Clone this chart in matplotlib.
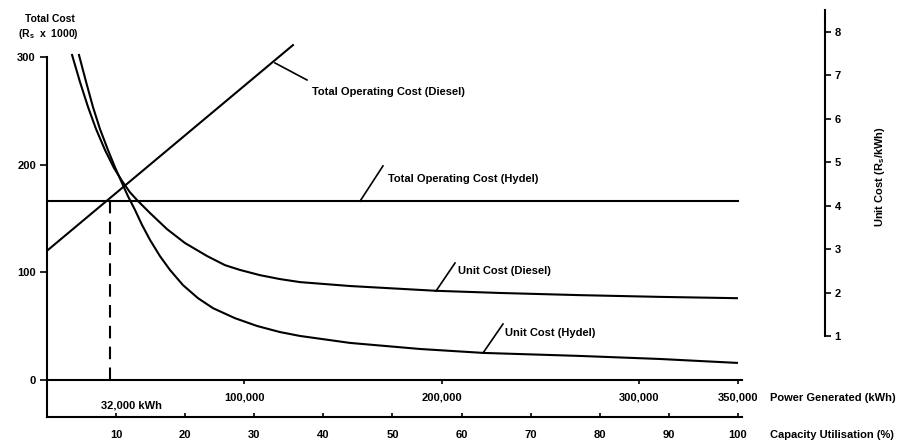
import matplotlib
matplotlib.use("Agg")
import matplotlib.pyplot as plt

plt.rcParams['font.family'] = ['Liberation Sans', 'DejaVu Sans']
plt.rcParams['font.weight'] = 'bold'
plt.rcParams['mathtext.fontset'] = 'custom'
plt.rcParams['mathtext.rm'] = 'Liberation Sans:bold'
plt.rcParams['mathtext.bf'] = 'Liberation Sans:bold'
plt.rcParams['mathtext.it'] = 'Liberation Sans:bold'
plt.rcParams['mathtext.default'] = 'bf'

# ---------------- data ----------------
# Total operating cost, Rs x 1000
hydel_total_kwh = [0, 350000]
hydel_total = [166, 166]
diesel_total_kwh = [0, 124600]
diesel_total = [120, 311]
breakeven_kwh = 32000

# Unit cost, Rs/kWh
diesel_unit_kwh = [12700, 16700, 20800, 24800, 29400, 33900, 38000, 42000,
                   45600, 52200, 60800, 69900, 81100, 90200, 97800, 107900,
                   118000, 128200, 153500, 197100, 229500, 270000, 310500, 349500]
diesel_unit = [7.47, 6.85, 6.27, 5.77, 5.28, 4.87, 4.57, 4.31,
               4.13, 3.83, 3.46, 3.14, 2.84, 2.63, 2.52, 2.40,
               2.31, 2.24, 2.15, 2.04, 1.99, 1.94, 1.90, 1.87]
hydel_unit_kwh = [16200, 19800, 23300, 26800, 30900, 34400, 38000, 41000,
                  44600, 48100, 52200, 57200, 62300, 68900, 76500, 84100,
                  95200, 106400, 118000, 128200, 153500, 189000, 220900,
                  270000, 310500, 349500]
hydel_unit = [7.47, 6.85, 6.27, 5.77, 5.28, 4.89, 4.52, 4.22,
              3.90, 3.56, 3.21, 2.84, 2.52, 2.17, 1.87, 1.64,
              1.41, 1.23, 1.09, 1.00, 0.84, 0.70, 0.61,
              0.54, 0.47, 0.38]

kwh_ticks = [100000, 200000, 300000, 350000]
kwh_ticklabels = ['100,000', '200,000', '300,000', '350,000']
cap_ticks = [10, 20, 30, 40, 50, 60, 70, 80, 90, 100]
left_ticks = [0, 100, 200, 300]
right_ticks = [1, 2, 3, 4, 5, 6, 7, 8]
KWH_PER_PCT = 3500

# ---------------- figure ----------------
W, H = 922, 443
fig = plt.figure(figsize=(W / 100, H / 100), dpi=100)
ax = fig.add_axes([47 / W, 1 - 417 / H, (825 - 47) / W, (417 - 10) / H])
ax.set_xlim(0, 394120)
ax.set_ylim(-34.4, 343.6)
ax2 = ax.twinx()
ax2.set_ylim(-0.866, 8.506)

lw = 1.5
k = 'black'
ax.plot(hydel_total_kwh, hydel_total, color=k, lw=lw)
ax.plot(diesel_total_kwh, diesel_total, color=k, lw=lw)
ax.plot([breakeven_kwh, breakeven_kwh], [0, hydel_total[0]], color=k, lw=lw,
        dashes=[6, 4])
ax2.plot(diesel_unit_kwh, diesel_unit, color=k, lw=lw, solid_joinstyle='round')
ax2.plot(hydel_unit_kwh, hydel_unit, color=k, lw=lw, solid_joinstyle='round')

fs = 8
# annotations with leader lines
ax.plot([115500, 131700], [294.4, 278.6], color=k, lw=1.2)
ax.text(134200, 267.5, 'Total Operating Cost (Diesel)', fontsize=fs, va='center', ha='left')
ax.plot([158560, 170200], [166, 198.8], color=k, lw=1.2)
ax.text(172700, 186.7, 'Total Operating Cost (Hydel)', fontsize=fs, va='center', ha='left')
ax2.plot([197060, 206690], [2.035, 2.68], color=k, lw=1.2)
ax2.text(208210, 2.50, 'Unit Cost (Diesel)', fontsize=fs, va='center', ha='left')
ax2.plot([220870, 231000], [0.608, 1.276], color=k, lw=1.2)
ax2.text(232020, 1.07, 'Unit Cost (Hydel)', fontsize=fs, va='center', ha='left')
ax.text(43000, -24, '32,000 kWh', fontsize=fs, va='center', ha='center')

# ---------------- axes styling ----------------
for s in ['top', 'right']:
    ax.spines[s].set_visible(False)
for s in ['top', 'left', 'bottom']:
    ax2.spines[s].set_visible(False)
for sp in list(ax.spines.values()) + list(ax2.spines.values()):
    sp.set_linewidth(1.5)

ax.spines['left'].set_bounds(-34.4, 300)
ax.spines['bottom'].set_position(('data', 0))
ax.spines['bottom'].set_bounds(0, 352000)
ax.set_xticks(kwh_ticks)
ax.set_xticklabels(kwh_ticklabels)
ax.tick_params(axis='x', direction='out', length=3, width=1.2, pad=6, labelsize=fs)
ax.set_yticks(left_ticks)
ax.tick_params(axis='y', direction='out', length=5, width=1.2, pad=3, labelsize=fs)

ax2.spines['right'].set_bounds(1, 8.5)
ax2.set_yticks(right_ticks)
ax2.tick_params(axis='y', direction='out', length=4, width=1.2, pad=3, labelsize=fs)

sec = ax.secondary_xaxis(0.0, functions=(lambda x: x / KWH_PER_PCT,
                                         lambda p: p * KWH_PER_PCT))
sec.spines['bottom'].set_linewidth(1.5)
sec.spines['bottom'].set_bounds(0, 100.6)
sec.set_xticks(cap_ticks)
sec.tick_params(axis='x', direction='in', length=3, width=1.2, pad=9, labelsize=fs)

# ---------------- labels ----------------
fig.text(50 / W, 1 - 19 / H, 'Total Cost', fontsize=7.5, ha='center', va='center')
fig.text(48 / W, 1 - 34 / H, '(R$_s$  x  1000)', fontsize=7.5, ha='center', va='center')
fig.text(770 / W, 1 - 398 / H, 'Power Generated (kWh)', fontsize=fs, ha='left', va='center')
fig.text(770 / W, 1 - 435 / H, 'Capacity Utilisation (%)', fontsize=fs, ha='left', va='center')
fig.text(880 / W, 1 - 177 / H, 'Unit Cost (R$_s$/kWh)', fontsize=fs, ha='center',
         va='center', rotation=90)

fig.savefig('out.png', dpi=100)
